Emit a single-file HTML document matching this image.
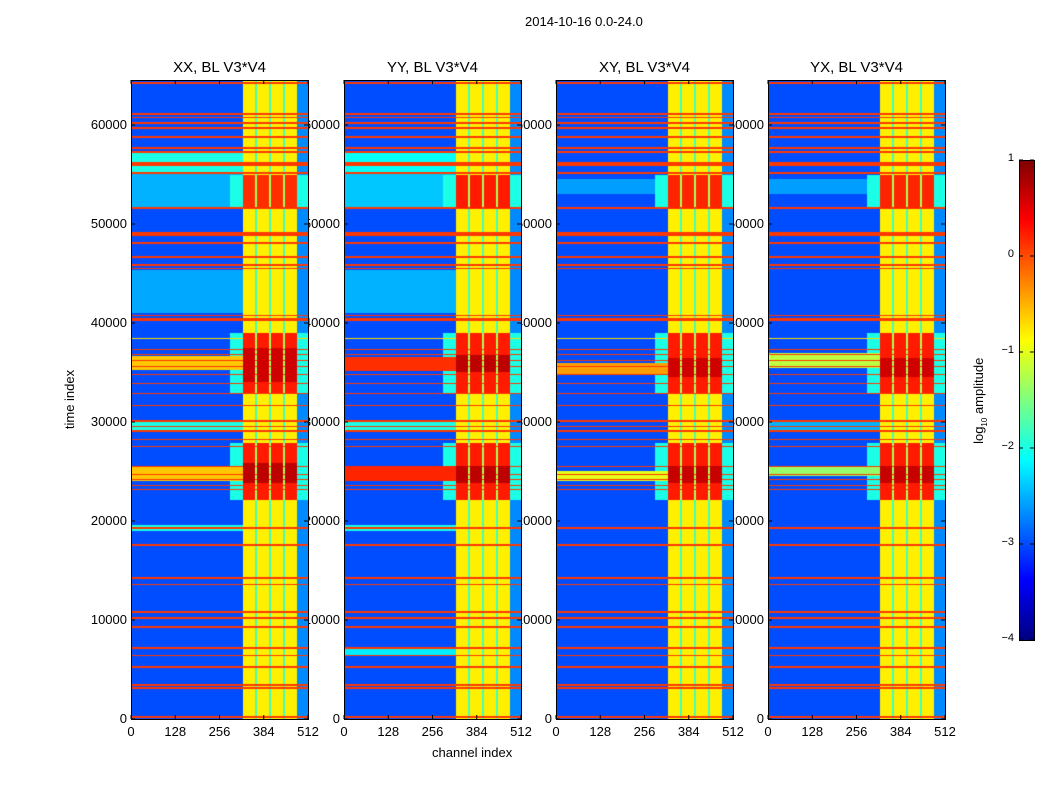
<!DOCTYPE html>
<html><head><meta charset="utf-8">
<style>
body{margin:0;background:#fff;font-family:"Liberation Sans",sans-serif;}
#root{position:relative;width:1050px;height:800px;overflow:hidden;background:#fff;}
.t{position:absolute;font-size:13px;color:#000;white-space:nowrap;}
.yl{z-index:1;text-align:right;width:60px;}
canvas.hm{position:absolute;z-index:2;}
.frame{position:absolute;border:1px solid #000;box-sizing:border-box;z-index:3;}
.ptitle{position:absolute;font-size:15px;z-index:4;text-align:center;width:177px;}
svg.tk{position:absolute;left:0;top:0;z-index:4;}
</style></head>
<body>
<div id="root">
<div class="t" style="left:525px;top:14px;">2014-10-16 0.0-24.0</div>
<div class="t" style="left:40px;top:392px;transform:rotate(-90deg);transform-origin:center;">time index</div>
<div class="t" style="left:432px;top:745px;">channel index</div>
<div class="t" style="left:930px;top:392px;width:100px;text-align:center;transform:rotate(-90deg);">log<sub style="font-size:8px">10</sub> amplitude</div>
<canvas id="cbar" width="15" height="480" style="position:absolute;left:1019px;top:160px;"></canvas>
<div class="frame" style="left:1019px;top:160px;width:16px;height:481px;"></div>
<svg class="tk" width="1050" height="800" id="tk"></svg>
</div>
<script>
// ---- data ----
const panelTitles = ["XX, BL V3*V4","YY, BL V3*V4","XY, BL V3*V4","YX, BL V3*V4"];
const xTicks = [0,128,256,384,512];
const yTicks = [0,10000,20000,30000,40000,50000,60000];
const cbTicks = [1,0,-1,-2,-3,-4];
// band columns (channel ranges)
const bandCols = [[324,359],[364,399],[405,440],[445,480]];
const gapLevel = -1.8, rightLevel = -2.7, bgLevel = -3.0, bandLevel = -0.8;
// horizontal RFI lines: [time, width(time units), level]
const rfiLines = [[64240,110,0.1],[61110,110,0.1],[60800,110,0.1],[60200,110,0.1],[59700,110,0.1],[58790,110,0.1],
 [57680,110,0.1],[57270,110,0.1],[56060,400,0.1],[55150,110,0.1],[51620,110,0.1],[49090,130,0.1],[48890,130,0.1],
 [48080,130,0.1],[46670,110,0.1],[45860,110,0.1],[45550,110,0.1],[40800,110,0.1],[40500,110,0.1],[40300,110,0.1],
 [38480,110,-0.7],[37300,110,0.1],[36800,110,0.1],[36200,110,0.1],[35600,130,0.1],[34800,110,0.1],[33900,110,0.1],
 [32900,110,0.1],[31700,110,0.1],[30100,110,0.1],[29500,110,0.1],[29100,200,0.1],[28200,110,0.1],[27500,110,0.1],
 [25500,110,0.1],[24700,110,0.1],[24200,110,0.1],[23600,110,0.1],[23200,110,0.1],[19290,250,0.1],[17580,110,0.1],
 [14240,200,0.1],[13600,150,0.1],[10800,150,0.1],[10200,120,0.1],[9290,150,0.1],[7170,150,0.1],[6460,110,0.1],
 [5250,110,0.1],[3430,150,0.1],[3130,150,0.1],[200,110,0.1]];
// background zones per panel: [t0,t1,level]
const bgZones = [
 [[55150,57170,-2.0],[51700,55100,-2.5],[41000,45350,-2.55],[29000,30200,-2.0],[19000,19600,-2.0]],
 [[55150,57170,-2.1],[51700,55100,-2.4],[41000,45350,-2.5],[29000,30200,-2.0],[19000,19600,-2.0],[6500,7100,-2.2]],
 [[53000,54500,-2.6]],
 [[53000,54500,-2.6],[29000,30000,-2.5]]
];
// red band segments per panel: [t0,t1,level]
const redSegs = [
 [[51600,54950,0.15],[32930,38990,0.25],[34000,37500,0.6],[22120,27880,0.25],[23840,25860,0.7]],
 [[51600,54950,0.25],[32930,38990,0.25],[35000,36800,0.7],[22120,27880,0.25],[23800,25600,0.7]],
 [[51600,54950,0.2],[32930,39000,0.25],[34500,36500,0.6],[22120,27880,0.25],[23800,25600,0.65]],
 [[51600,54950,0.2],[32930,39000,0.25],[34500,36500,0.6],[22120,27880,0.25],[23800,25600,0.65]]
];
// full-width bands per panel: [t0,t1,level]
const wideBands = [
 [[35300,36700,-0.6],[24000,25500,-0.6]],
 [[35200,36600,0.15],[24000,25600,0.2]],
 [[34800,36000,-0.4],[24000,25000,-1.0]],
 [[35500,37000,-1.2],[24500,25500,-1.4]]
];
const panelLeft = [131,344,556,768];
// ---- scales ----
const pTop=80, pH=639, pW=177, tMax=64545, chMax=512;
const yOf = t => pTop + pH - t/tMax*pH;
const xOf = (p,c) => panelLeft[p] + c/chMax*pW;
function jet(v){
  let n=(v+4)/5; n=Math.max(0,Math.min(1,n));
  const cl=x=>Math.max(0,Math.min(1,x));
  return [cl(1.5-Math.abs(4*n-3))*255, cl(1.5-Math.abs(4*n-2))*255, cl(1.5-Math.abs(4*n-1))*255];
}
function inSeg(list,t){let v=null;for(const s of list){if(t>=s[0]&&t<=s[1]){v=(v===null)?s[2]:Math.max(v,s[2]);}}return v;}
function value(p,ch,t){
  let v;
  const red=inSeg(redSegs[p],t);
  const col=bandCols.some(c=>ch>=c[0]&&ch<c[1]);
  if(col){v=red!==null?red:bandLevel;}
  else if(ch>=bandCols[0][0]&&ch<bandCols[3][1]){v=red!==null?-1.3:gapLevel;}
  else if(ch>=bandCols[3][1]){v=red!==null?-2.0:rightLevel;}
  else{
    const z=inSeg(bgZones[p],t); v=z!==null?z:bgLevel;
    if(red!==null&&ch>285) v=Math.max(v,-2.0);
    const w=inSeg(wideBands[p],t); if(w!==null) v=Math.max(v,w);
  }
  for(const l of rfiLines){ if(Math.abs(t-l[0])<=l[1]/2) v=Math.max(v,l[2]); }
  return v;
}
const root=document.getElementById('root');
const svg=document.getElementById('tk');
const NS='http://www.w3.org/2000/svg';
function line(x1,y1,x2,y2){const e=document.createElementNS(NS,'line');e.setAttribute('x1',x1);e.setAttribute('y1',y1);e.setAttribute('x2',x2);e.setAttribute('y2',y2);e.setAttribute('stroke','#000');e.setAttribute('stroke-width','1');svg.appendChild(e);return e;}
for(let p=0;p<4;p++){
  const cv=document.createElement('canvas');
  cv.className='hm';cv.width=pW;cv.height=pH;
  cv.style.left=panelLeft[p]+'px';cv.style.top=pTop+'px';
  
  
  root.appendChild(cv);
  const ctx=cv.getContext('2d');const img=ctx.createImageData(pW,pH);
  for(let r=0;r<pH;r++){
    const t=(pH-r-0.5)/pH*tMax;
    for(let c=0;c<pW;c++){
      const ch=(c+0.5)/pW*chMax;
      const col=jet(value(p,ch,t));const i=(r*pW+c)*4;
      img.data[i]=col[0];img.data[i+1]=col[1];img.data[i+2]=col[2];img.data[i+3]=255;
    }
  }
  ctx.putImageData(img,0,0);
  const fr=document.createElement('div');fr.className='frame';
  fr.style.cssText=`left:${panelLeft[p]}px;top:${pTop}px;width:${pW+1}px;height:${pH+1}px;`;
  
  
  root.appendChild(fr);
  const ti=document.createElement('div');ti.className='ptitle';
  ti.style.left=panelLeft[p]+'px';ti.style.top='59px';ti.textContent=panelTitles[p];
  
  
  root.appendChild(ti);
  for(const x of xTicks){
    const px=xOf(p,x);
    line(px,pTop+pH,px,pTop+pH-4);line(px,pTop,px,pTop+4);
    const d=document.createElement('div');d.className='t';d.textContent=x;
    d.style.left=(px-20)+'px';d.style.width='40px';d.style.textAlign='center';d.style.top='724px';
    
    
    root.appendChild(d);
  }
  for(const y of yTicks){
    const py=yOf(y);
    line(panelLeft[p],py,panelLeft[p]+4,py);line(panelLeft[p]+pW,py,panelLeft[p]+pW-4,py);
    const d=document.createElement('div');d.className='t yl';d.textContent=y;
    d.style.left=(panelLeft[p]-64)+'px';d.style.top=(py-8)+'px';
    
    
    root.appendChild(d);
  }
}
// colorbar
const cb=document.getElementById('cbar').getContext('2d');
for(let r=0;r<480;r++){const v=1-(r+0.5)/480*5;const c=jet(v);cb.fillStyle=`rgb(${c[0]|0},${c[1]|0},${c[2]|0})`;cb.fillRect(0,r,15,1);}
for(const v of cbTicks){
  const py=160+(1-v)/5*480;
  line(1019,py,1023,py);line(1034,py,1030,py);
  const d=document.createElement('div');d.className='t';d.textContent=(v<0?'\u2212'+(-v):''+v);
  d.style.left='970px';d.style.width='44px';d.style.textAlign='right';d.style.top=(py-8)+'px';d.style.fontSize='11px';
  
  
  root.appendChild(d);
}
</script>
</body></html>
